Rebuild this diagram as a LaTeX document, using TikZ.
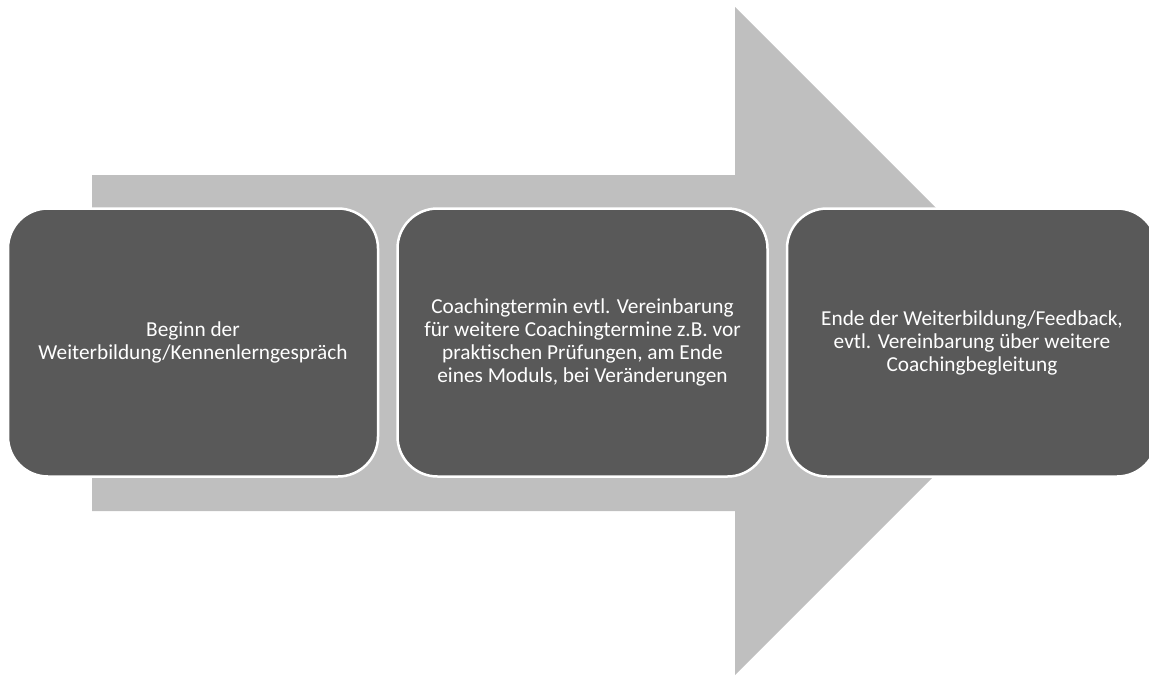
\documentclass[tikz,border=0pt]{standalone}
\usepackage{fontspec}
\setmainfont{Carlito}
\usetikzlibrary{positioning}
\definecolor{pfeilgrau}{HTML}{BFBFBF}
\definecolor{boxgrau}{HTML}{595959}
\tikzset{
  phase/.style = {rectangle, rounded corners=40pt, align=center,
    draw=white, line width=2.5pt, fill=boxgrau, text=white,
    minimum width=370pt, minimum height=268pt, inner sep=0pt,
    font=\fontsize{21.3}{23}\selectfont},% Phase der Begleitung
  pfeil/.style = {fill=pfeilgrau, draw=none}% grosser Prozesspfeil
}

\begin{document}
\begin{tikzpicture}[x=1pt,y=-1pt]
	\useasboundingbox (0,0) rectangle (1149,675);

	% Prozesspfeil im Hintergrund
	\fill [pfeil] (92,175) -- (735,175) -- (735,7) -- (1069,341)
		-- (735,675) -- (735,511) -- (92,511) -- cycle;

	% Phasen
	\node [phase] (beginn) at (193,342.5)
		{Beginn der\\Weiterbildung/Kennenlerngespräch};
	\node [phase, right=17pt of beginn] (termin)
		{Coachingtermin evtl. Vereinbarung\\für weitere Coachingtermine z.B. vor\\praktischen Prüfungen, am Ende\\eines Moduls, bei Veränderungen};
	\node [phase, right=17pt of termin] (ende)
		{Ende der Weiterbildung/Feedback,\\evtl. Vereinbarung über weitere\\Coachingbegleitung};

\end{tikzpicture}
\end{document}
